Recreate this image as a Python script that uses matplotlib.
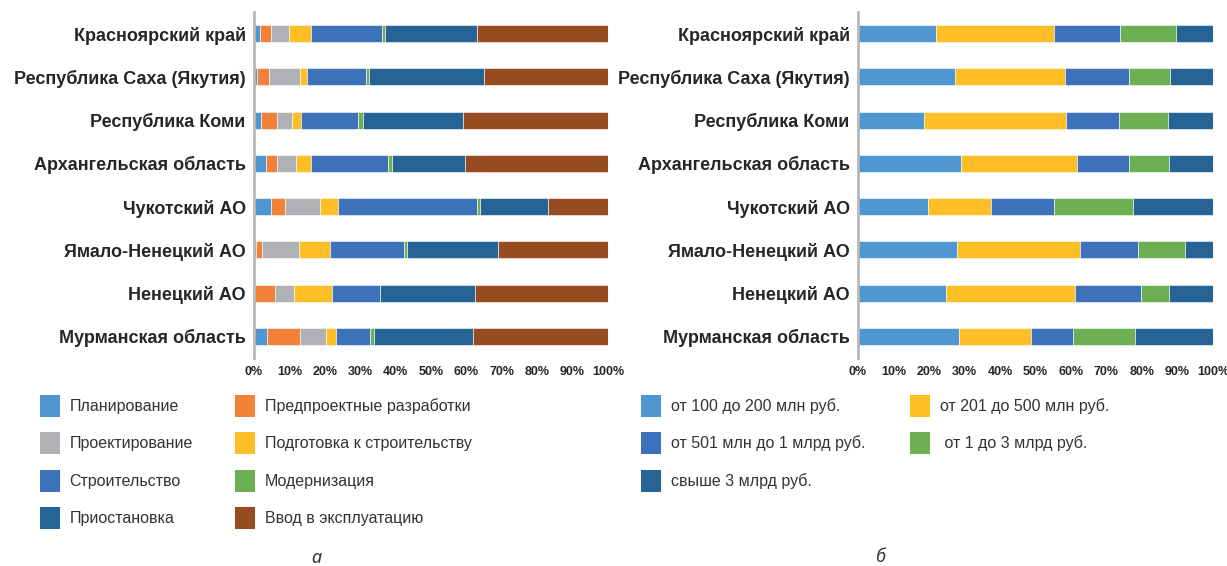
import matplotlib
matplotlib.use("Agg")
import matplotlib.pyplot as plt
from matplotlib.patches import Patch
import numpy as np

plt.rcParams["font.family"] = ["Liberation Sans", "DejaVu Sans"]

# ---- данные ----
regions = ["Красноярский край", "Республика Саха (Якутия)", "Республика Коми",
           "Архангельская область", "Чукотский АО", "Ямало-Ненецкий АО",
           "Ненецкий АО", "Мурманская область"]

# (а) стадии реализации, %
stage_names = ["Планирование", "Предпроектные разработки", "Проектирование",
               "Подготовка к строительству", "Строительство", "Модернизация",
               "Приостановка", "Ввод в эксплуатацию"]
planning = [1.7, 0.85, 2.1, 3.5, 4.8, 0.5, 0.0, 3.7]
preproject = [3.1, 3.4, 4.4, 3.0, 4.0, 1.9, 5.8, 9.4]
design = [5.1, 8.7, 4.3, 5.4, 9.9, 10.4, 5.4, 7.1]
preparation = [6.1, 1.9, 2.6, 4.1, 5.1, 8.8, 10.8, 3.0]
construction = [20.2, 16.7, 15.9, 21.8, 39.1, 20.8, 13.6, 9.6]
modernization = [0.7, 1.0, 1.4, 1.1, 1.0, 0.7, 0.0, 1.1]
suspended = [26.2, 32.4, 28.3, 20.7, 19.1, 25.9, 26.8, 28.0]
commissioned = [37.0, 35.0, 40.9, 40.4, 17.0, 31.0, 37.5, 38.1]
stage_colors = ["#4F97D1", "#F2823A", "#B0B1B4", "#FDBE26",
                "#3D72BA", "#6DB053", "#266496", "#974B21"]

# (б) стоимость проектов, %
cost_names = ["от 100 до 200 млн руб.", "от 201 до 500 млн руб.",
              "от 501 млн до 1 млрд руб.", " от 1 до 3 млрд руб.",
              "свыше 3 млрд руб."]
cost_100_200 = [22.1, 27.4, 18.5, 29.1, 19.8, 27.9, 24.9, 28.5]
cost_201_500 = [33.2, 31.0, 40.2, 32.5, 17.8, 34.6, 36.2, 20.1]
cost_501_1000 = [18.6, 18.0, 14.9, 14.6, 17.5, 16.4, 18.7, 12.1]
cost_1_3 = [15.8, 11.5, 13.6, 11.5, 22.5, 13.1, 7.8, 17.3]
cost_over_3 = [10.3, 12.0, 12.8, 12.2, 22.3, 7.9, 12.4, 22.0]
cost_colors = ["#4F97D1", "#FDBE26", "#3D72BA", "#6DB053", "#266496"]

W, H = 1227, 566
fig = plt.figure(figsize=(W / 100, H / 100), dpi=100)


def stacked(ax, series, colors):
    y = np.arange(len(regions))
    left = np.zeros(len(regions))
    for vals, c in zip(series, colors):
        vals = np.array(vals, dtype=float)
        ax.barh(y, vals, left=left, height=0.39, color=c,
                edgecolor="white", linewidth=0.4)
        left += vals
    ax.set_xlim(0, 100)
    ax.set_ylim(len(regions) - 0.5, -0.5)
    ax.set_yticks(y)
    ax.set_yticklabels(regions, fontsize=13, fontweight="bold", color="#262626")
    ax.set_xticks(np.arange(0, 101, 10))
    ax.set_xticklabels([f"{v}%" for v in range(0, 101, 10)],
                       fontsize=9, fontweight="bold", color="#262626")
    ax.tick_params(axis="y", length=0, pad=6)
    ax.tick_params(axis="x", length=0, pad=6)
    for s in ("top", "right", "bottom"):
        ax.spines[s].set_visible(False)
    ax.spines["left"].set_color("#B8B8BC")
    ax.spines["left"].set_linewidth(2)


def leg(handles, x_px, y_px):
    fig.legend(handles=handles, loc="upper left",
               bbox_to_anchor=(x_px / W, 1 - y_px / H), frameon=False,
               fontsize=11.5, borderpad=0, borderaxespad=0,
               handlelength=1.25, handleheight=1.75, handletextpad=0.6,
               labelspacing=0.95, labelcolor="#333333")


ax1 = fig.add_axes([254 / W, 1 - 358 / H, 354 / W, 346 / H])
stacked(ax1, [planning, preproject, design, preparation, construction,
              modernization, suspended, commissioned], stage_colors)

ax2 = fig.add_axes([858 / W, 1 - 358 / H, 355 / W, 346 / H])
stacked(ax2, [cost_100_200, cost_201_500, cost_501_1000, cost_1_3, cost_over_3],
        cost_colors)

# легенды по колонкам
sh = [Patch(facecolor=c, label=n) for c, n in zip(stage_colors, stage_names)]
ch = [Patch(facecolor=c, label=n) for c, n in zip(cost_colors, cost_names)]
leg(sh[0::2], 40, 395)
leg(sh[1::2], 235, 395)
leg(ch[0::2], 641, 395)
leg(ch[1::2], 910, 395)

fig.text(316 / W, 1 - 558 / H, "а", fontsize=13, style="italic",
         family=["Noto Sans", "DejaVu Sans"], color="#333333", ha="center", va="center")
fig.text(880 / W, 1 - 557 / H, "б", fontsize=13, style="italic",
         family=["Noto Sans", "DejaVu Sans"], color="#333333", ha="center", va="center")

fig.savefig("out.png", dpi=100)
